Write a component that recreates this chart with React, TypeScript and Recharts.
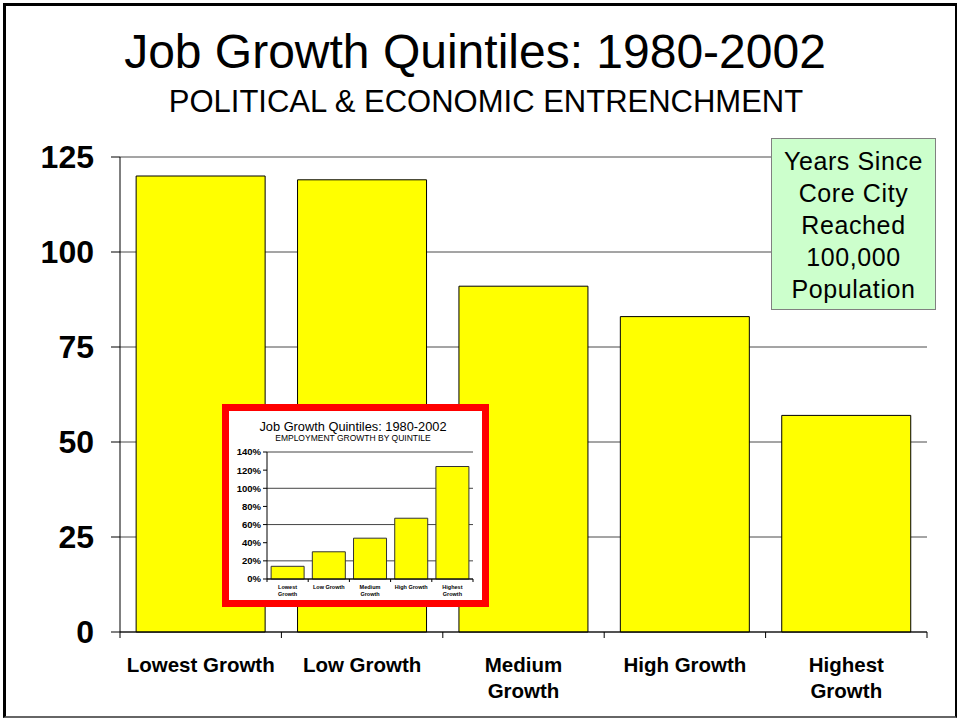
import React from 'react';
import { BarChart, Bar, XAxis, YAxis, CartesianGrid } from 'recharts';

// main chart: years since core city reached 100,000 population
const categories = ['Lowest Growth', 'Low Growth', 'Medium Growth', 'High Growth', 'Highest Growth'];
const yearsSince100k = [120, 119, 91, 83, 57];
const yearTicks = [0, 25, 50, 75, 100, 125];
const mainLabelLines = [['Lowest Growth'], ['Low Growth'], ['Medium', 'Growth'], ['High Growth'], ['Highest', 'Growth']];

// inset chart: employment growth by quintile (percent)
const employmentGrowth = [14, 30, 45, 67, 124];
const growthTicks = [0, 20, 40, 60, 80, 100, 120, 140];
const insetLabelLines = [['Lowest', 'Growth'], ['Low Growth'], ['Medium', 'Growth'], ['High Growth'], ['Highest', 'Growth']];

const boxLines = ['Years Since', 'Core City', 'Reached', '100,000', 'Population'];

const mainData = categories.map((name, i) => ({ name, years: yearsSince100k[i] }));
const insetData = categories.map((name, i) => ({ name, growth: employmentGrowth[i] }));

const FONT = "Arial, 'Liberation Sans', sans-serif";

const MainTick = (props: any) => {
  const { x, y, payload, index } = props;
  const off = payload && payload.offset ? payload.offset : 80.6;
  const lines = mainLabelLines[index] || [payload.value];
  return (
    <g>
      <line x1={x - off} y1={y} x2={x - off} y2={y + 6} stroke="#000" />
      {index === categories.length - 1 && (
        <line x1={x + off} y1={y} x2={x + off} y2={y + 6} stroke="#000" />
      )}
      {lines.map((ln: string, k: number) => (
        <text key={k} x={x} y={y + 40 + k * 26} textAnchor="middle" fontSize={20.5} fontWeight="bold" fill="#000">
          {ln}
        </text>
      ))}
    </g>
  );
};

const InsetTick = (props: any) => {
  const { x, y, payload, index } = props;
  const off = payload && payload.offset ? payload.offset : 20.6;
  const lines = insetLabelLines[index] || [payload.value];
  return (
    <g>
      <line x1={x - off} y1={y} x2={x - off} y2={y + 3} stroke="#000" />
      {index === categories.length - 1 && (
        <line x1={x + off} y1={y} x2={x + off} y2={y + 3} stroke="#000" />
      )}
      {lines.map((ln: string, k: number) => (
        <text key={k} x={x} y={y + 10 + k * 6.5} textAnchor="middle" fontSize={5.5} fontWeight="bold" fill="#000">
          {ln}
        </text>
      ))}
    </g>
  );
};

export default function App() {
  return (
    <div style={{ position: 'absolute', left: 0, top: 0, width: 960, height: 721, background: '#fff', fontFamily: FONT, overflow: 'hidden' }}>
      {/* slide frame */}
      <div style={{ position: 'absolute', left: 3, top: 3, width: 954, height: 715, borderLeft: '3px solid #000', borderTop: '3px solid #000', borderRight: '2px solid #000', borderBottom: '2px solid #666', boxSizing: 'border-box' }} />

      <div style={{ position: 'absolute', left: 0, top: 0 }}>
        <BarChart width={960} height={721} data={mainData} margin={{ top: 157, right: 33, bottom: 29, left: 40 }} barCategoryGap="10%">
          <CartesianGrid vertical={false} stroke="#4a4a4a" />
          <XAxis dataKey="name" height={60} axisLine={{ stroke: '#000' }} tickLine={false} tickSize={0} tickMargin={0} tick={<MainTick />} interval={0} />
          <YAxis
            domain={[0, 125]}
            ticks={yearTicks}
            width={80}
            axisLine={{ stroke: '#000' }}
            tickLine={{ stroke: '#000' }}
            tickSize={9}
            tickMargin={17}
            tick={{ fontSize: 32, fontWeight: 'bold', fill: '#000' }}
          />
          <YAxis yAxisId="edge" orientation="right" domain={[0, 125]} width={0} tick={false} tickLine={false} axisLine={{ stroke: '#aaa' }} />
          <Bar dataKey="years" fill="#ffff00" stroke="#000" strokeWidth={1} isAnimationActive={false} />
        </BarChart>
      </div>

      {/* note box */}
      <div style={{ position: 'absolute', left: 771, top: 138, width: 165, height: 172, background: '#ccffcc', border: '1px solid #808080', boxSizing: 'border-box' }} />

      {/* inset chart */}
      <div style={{ position: 'absolute', left: 222, top: 404, width: 267, height: 203, border: '7px solid #ff0000', background: '#fff', boxSizing: 'border-box' }}>
        <BarChart width={253} height={189} data={insetData} margin={{ top: 41, right: 9, bottom: 3, left: 4 }} barCategoryGap="10%">
          <CartesianGrid vertical={false} stroke="#444" />
          <XAxis dataKey="name" height={18} axisLine={{ stroke: '#000' }} tickLine={false} tickSize={0} tickMargin={0} tick={<InsetTick />} interval={0} />
          <YAxis
            domain={[0, 140]}
            ticks={growthTicks}
            width={34}
            axisLine={{ stroke: '#000' }}
            tickLine={{ stroke: '#000' }}
            tickSize={4}
            tickMargin={2}
            tickFormatter={(v: number) => `${v}%`}
            tick={{ fontSize: 9.5, fontWeight: 'bold', fill: '#000' }}
          />
          <YAxis yAxisId="edge" orientation="right" domain={[0, 140]} width={0} tick={false} tickLine={false} axisLine={{ stroke: '#999' }} />
          <Bar dataKey="growth" fill="#ffff00" stroke="#333" strokeWidth={1} isAnimationActive={false} />
        </BarChart>
      </div>

      {/* titles and box text */}
      <svg width={960} height={721} style={{ position: 'absolute', left: 0, top: 0, pointerEvents: 'none' }}>
        <text x={475} y={68} textAnchor="middle" fontSize={48} fill="#000" fontFamily={FONT}>
          Job Growth Quintiles: 1980-2002
        </text>
        <text x={486} y={112} textAnchor="middle" fontSize={31} fill="#000" fontFamily={FONT}>
          POLITICAL &amp; ECONOMIC ENTRENCHMENT
        </text>
        {boxLines.map((t, i) => (
          <text key={t} x={853.5} y={170 + i * 32} textAnchor="middle" fontSize={25} letterSpacing={0.6} fill="#000" fontFamily={FONT}>
            {t}
          </text>
        ))}
        <text x={353} y={431} textAnchor="middle" fontSize={12.8} fill="#000" fontFamily={FONT}>
          Job Growth Quintiles: 1980-2002
        </text>
        <text x={353} y={441} textAnchor="middle" fontSize={8.5} fill="#000" fontFamily={FONT}>
          EMPLOYMENT GROWTH BY QUINTILE
        </text>
      </svg>
    </div>
  );
}
